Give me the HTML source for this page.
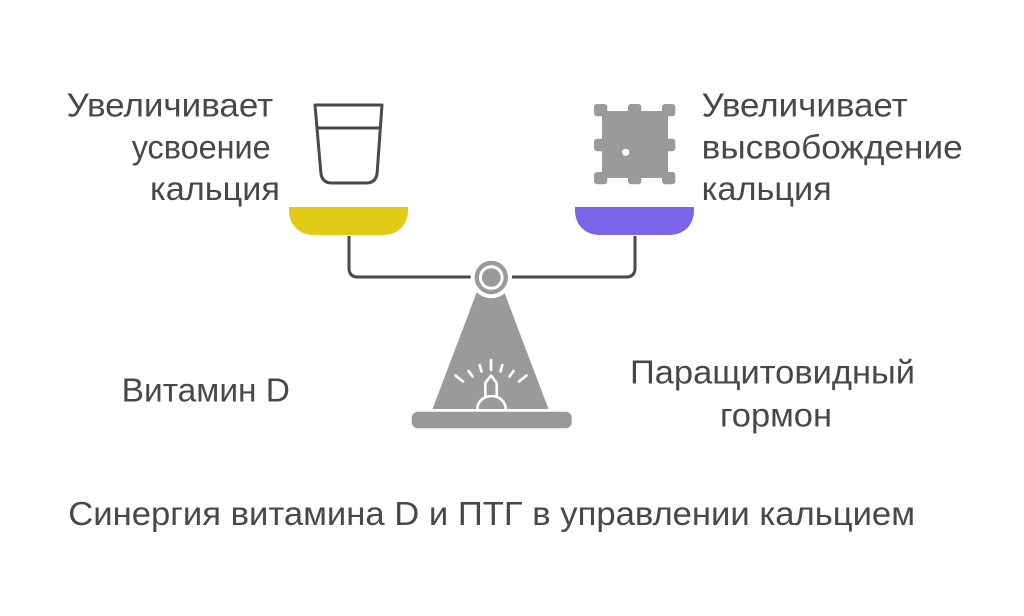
<!DOCTYPE html>
<html>
<head>
<meta charset="utf-8">
<style>
  html, body { margin: 0; padding: 0; background: #ffffff; }
  body { width: 1024px; height: 616px; overflow: hidden; }
  svg { display: block; }
  text { font-family: "Liberation Sans", "DejaVu Sans", sans-serif; font-size: 33px; fill: #484848; }
</style>
</head>
<body>
<svg width="1024" height="616" viewBox="0 0 1024 616" xmlns="http://www.w3.org/2000/svg">
  <rect x="0" y="0" width="1024" height="616" fill="#ffffff"/>

  <!-- Glass icon -->
  <path d="M315,105 L382,105 L377.2,172 Q376.5,183 366,183 L332,183 Q321.5,183 320.8,172 Z" fill="none" stroke="#4a4a4a" stroke-width="3" stroke-linejoin="round"/>
  <line x1="317" y1="128" x2="380.3" y2="128" stroke="#4a4a4a" stroke-width="3"/>

  <!-- Puzzle icon -->
  <g fill="#9a9a9a">
    <rect x="602" y="111" width="66" height="67"/>
    <rect x="594" y="104" width="13.3" height="12.3" rx="3"/>
    <rect x="628" y="104" width="13.3" height="12.3" rx="3"/>
    <rect x="662" y="104" width="13.3" height="12.3" rx="3"/>
    <rect x="594" y="138.7" width="13.3" height="12.6" rx="3"/>
    <rect x="662" y="138.7" width="13.3" height="12.6" rx="3"/>
    <rect x="594" y="172" width="13.3" height="12.3" rx="3"/>
    <rect x="628" y="172" width="13.3" height="12.3" rx="3"/>
    <rect x="662" y="172" width="13.3" height="12.3" rx="3"/>
  </g>
  <circle cx="625.7" cy="152.3" r="3.6" fill="#ffffff"/>

  <!-- Bowls -->
  <path d="M289,207 H408 V210 C408,225 398,235 383,235 H314 C299,235 289,225 289,210 Z" fill="#E1CB17"/>
  <path d="M575,207 H694 V210 C694,225 684,235 669,235 H600 C585,235 575,225 575,210 Z" fill="#7B64E8"/>

  <!-- Beam -->
  <path d="M349,236 V268 Q349,277 358,277 H626 Q635,277 635,268 V236" fill="none" stroke="#4a4a4a" stroke-width="3"/>

  <!-- Stand triangle -->
  <polygon points="482.5,277 498.5,277 548.5,409 432.5,409" fill="#9a9a9a"/>
  <!-- Plate -->
  <rect x="411.7" y="411.7" width="160" height="16.6" rx="6" fill="#9a9a9a"/>

  <!-- Pivot -->
  <circle cx="491.3" cy="277.5" r="18.7" fill="#9a9a9a" stroke="#ffffff" stroke-width="4"/>
  <circle cx="491.3" cy="277.5" r="10.8" fill="none" stroke="#ffffff" stroke-width="3"/>

  <!-- Light icon on stand -->
  <g fill="none" stroke="#ffffff" stroke-width="2.6" stroke-linecap="round" stroke-linejoin="round">
    <path d="M477.3,409 A14.2,13 0 0 1 505.7,409"/>
    <path d="M485.3,396 V383 L491,375.5 L496.7,383 V396"/>
    <line x1="455.5" y1="375.5" x2="463" y2="381.5"/>
    <line x1="468.5" y1="371" x2="472.5" y2="376.5"/>
    <line x1="479.7" y1="365" x2="481.5" y2="371.5"/>
    <line x1="491" y1="360" x2="491" y2="370"/>
    <line x1="502.3" y1="365" x2="500.5" y2="371.5"/>
    <line x1="513.5" y1="371" x2="509.5" y2="376.5"/>
    <line x1="526.5" y1="375.5" x2="519" y2="381.5"/>
  </g>

  <!-- Left top label -->
  <text x="66.7" y="116.7" textLength="206.5" lengthAdjust="spacingAndGlyphs">Увеличивает</text>
  <text x="131.7" y="158.5" textLength="139" lengthAdjust="spacingAndGlyphs">усвоение</text>
  <text x="150" y="200" textLength="130" lengthAdjust="spacingAndGlyphs">кальция</text>

  <!-- Right top label -->
  <text x="701.7" y="116.7" textLength="206" lengthAdjust="spacingAndGlyphs">Увеличивает</text>
  <text x="701.7" y="158.5" textLength="261" lengthAdjust="spacingAndGlyphs">высвобождение</text>
  <text x="701.7" y="200" textLength="130" lengthAdjust="spacingAndGlyphs">кальция</text>

  <!-- Bottom labels -->
  <text x="121.7" y="401.7" textLength="168.3" lengthAdjust="spacingAndGlyphs">Витамин D</text>
  <text x="630" y="383.3" textLength="285" lengthAdjust="spacingAndGlyphs">Паращитовидный</text>
  <text x="720" y="426.7" textLength="112" lengthAdjust="spacingAndGlyphs">гормон</text>

  <!-- Title -->
  <text x="68.3" y="525" textLength="846.7" lengthAdjust="spacingAndGlyphs">Синергия витамина D и ПТГ в управлении кальцием</text>
</svg>
</body>
</html>
